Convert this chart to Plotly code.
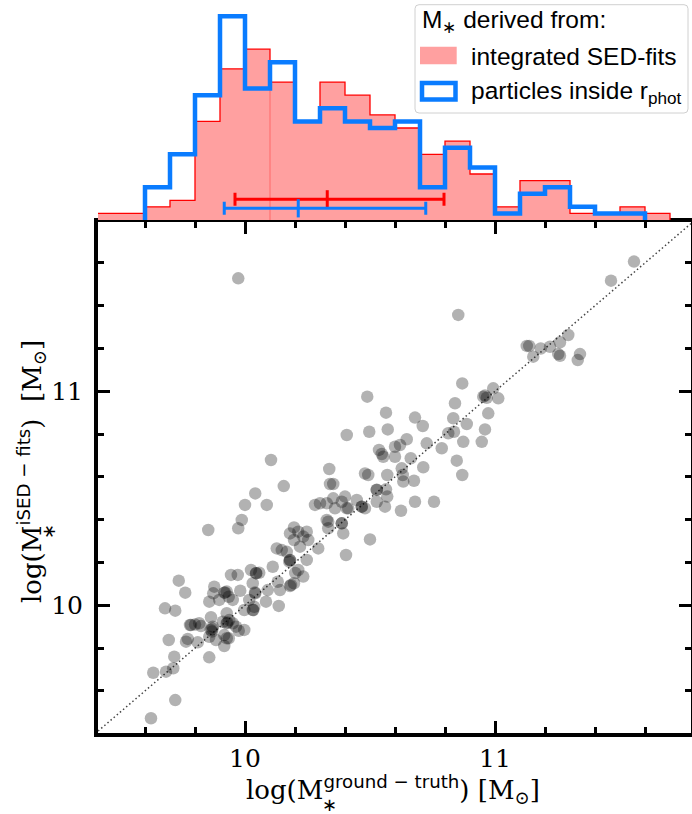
import plotly.graph_objects as go

W, H = 692, 814

# ---------------- data ----------------
x_truth = [9.624, 9.721, 9.633, 9.684, 9.713, 9.717, 9.695, 9.764, 9.771, 9.735,
           9.761, 9.680, 9.721, 9.784, 9.817, 9.824, 9.811, 9.857, 9.864, 9.871,
           9.868, 9.857, 9.884, 9.917, 9.917, 9.935, 9.927, 9.937, 9.951, 9.964,
           9.975, 9.997, 9.927, 9.911, 9.877, 9.873, 9.857, 9.897, 9.917, 9.927,
           9.935, 9.951, 9.981, 10.017, 9.997, 10.031, 10.037, 10.084, 10.135, 9.944,
           9.971, 10.024, 10.044, 10.057, 10.031, 10.041, 10.091, 10.111, 10.131, 10.140,
           10.184, 10.177, 10.201, 10.000, 10.087, 9.987, 9.973, 9.853, 10.196, 10.180,
           10.213, 10.247, 10.233, 10.253, 10.196, 10.127, 10.147, 10.167, 10.220, 10.293,
           10.247, 10.180, 10.213, 10.233, 10.196, 10.180, 10.327, 10.333, 10.360, 10.393,
           10.387, 10.404, 10.407, 10.467, 10.500, 10.527, 10.560, 10.300, 10.280, 10.327,
           10.353, 10.387, 10.400, 10.413, 10.447, 10.480, 10.333, 10.527, 10.569, 10.624,
           10.680, 10.756, 10.340, 10.353, 10.337, 10.480, 10.493, 10.564, 10.569, 10.627,
           10.631, 10.633, 10.676, 10.713, 10.663, 10.647, 10.620, 10.600, 10.553, 10.536,
           10.547, 10.600, 10.407, 10.497, 10.571, 10.564, 10.489, 10.680, 10.711, 10.727,
           10.787, 10.847, 10.869, 10.873, 10.887, 10.833, 10.840, 10.813, 10.836, 10.869,
           10.947, 10.960, 10.973, 10.953, 10.960, 10.967, 10.993, 11.013, 11.556, 11.464,
           11.293, 11.260, 11.220, 11.183, 11.127, 11.137, 11.153, 11.253, 11.260, 11.340,
           11.331, 10.853, 9.973, 10.104, 10.155, 10.041,
           9.920, 9.930, 9.870, 10.045, 10.040, 10.527, 10.180, 10.387, 10.467, 9.780,
           9.800, 10.033, 9.927, 9.863]
y_sed = [9.472, 9.557, 9.685, 9.690, 9.706, 9.760, 9.838, 9.830, 9.843, 10.115,
         10.059, 9.986, 9.975, 9.908, 9.916, 9.903, 9.827, 9.757, 9.944, 9.900,
         9.877, 9.853, 9.838, 9.810, 9.861, 9.846, 9.963, 9.931, 9.916, 9.900,
         9.881, 9.885, 9.916, 9.923, 10.087, 10.056, 10.017, 10.025, 10.059, 10.064,
         10.040, 10.025, 10.068, 10.025, 9.978, 9.978, 9.993, 10.017, 9.997, 10.142,
         10.142, 10.165, 10.150, 10.152, 10.103, 10.056, 10.071, 10.180, 10.110, 10.071,
         10.095, 10.204, 10.151, 10.469, 10.469, 10.399, 10.360, 10.352, 10.364, 10.336,
         10.344, 10.344, 10.321, 10.305, 10.305, 10.266, 10.258, 10.250, 10.274, 10.266,
         10.212, 10.212, 10.165, 10.134, 10.103, 10.090, 10.399, 10.360, 10.453, 10.336,
         10.383, 10.235, 10.453, 10.461, 10.308, 10.484, 10.461, 10.477, 10.469, 10.477,
         10.500, 10.484, 10.508, 10.453, 10.492, 10.453, 10.391, 10.539, 10.508, 10.442,
         10.484, 10.484, 10.567, 10.567, 10.637, 10.616, 10.609, 10.542, 10.609, 10.640,
         10.609, 10.578, 10.582, 10.645, 10.687, 10.776, 10.749, 10.741, 10.694, 10.726,
         10.707, 10.694, 10.796, 10.811, 10.822, 10.900, 10.975, 10.877, 10.838, 10.757,
         10.734, 10.676, 10.609, 10.764, 10.847, 10.874, 10.944, 10.804, 10.811, 11.037,
         10.764, 10.822, 10.897, 10.975, 10.980, 10.970, 11.014, 10.967, 11.606, 11.517,
         11.263, 11.229, 11.208, 11.200, 11.212, 11.212, 11.162, 11.174, 11.166, 11.174,
         11.146, 11.357, 11.528, 10.679, 10.557, 10.523,
         10.060, 9.920, 9.890, 10.150, 10.060, 10.540, 10.210, 10.383, 10.461, 9.908,
         9.910, 9.978, 9.846, 9.885]

# histogram bins (edges) and counts
bin_edges = [9.4, 9.5, 9.6, 9.7, 9.8, 9.9, 10.0, 10.1, 10.2, 10.3, 10.4, 10.5,
             10.6, 10.7, 10.8, 10.9, 11.0, 11.1, 11.2, 11.3, 11.4, 11.5, 11.6, 11.7]
counts_sed = [1, 1, 2, 3, 15, 23, 26, 21, 15, 21, 19, 16, 14, 10, 12, 7, 2, 6, 6, 1, 1, 2, 1]
counts_part = [0, 0, 5, 10, 19, 31, 20, 24, 15, 17, 15, 14, 15, 5, 11, 8, 1, 4, 5, 2, 1, 1, 0]

# median and 16/84 percentile ranges
sed_stats = [9.96, 10.329, 10.796]
part_stats = [9.917, 10.213, 10.723]
sed_bar_level = 3.15
part_bar_level = 1.78

tick_major = [10, 11]
tick_labels = ["10", "11"]

RED = "#ff0000"
PINK = "#ffa0a0"
BLUE = "#0a7cff"

# ---------------- geometry helpers ----------------
def xval(px):
    return 10 + (px - 245) / 250.0

def yval(py):
    return 10 + (605.3 - py) / 214.0

def PX(px):
    return px / W

def PY(py):
    return 1 - py / H

X0, X1 = 98, 691
YT, YB = 222, 732.5
HB = 220            # histogram baseline (px)
PX_PER_COUNT = 6.57


def step_xy(edges, counts):
    i0 = next(i for i, c in enumerate(counts) if c > 0)
    i1 = max(i for i, c in enumerate(counts) if c > 0)
    xs = [edges[i0]]
    ys = [0]
    for i in range(i0, i1 + 1):
        xs.append(edges[i])
        ys.append(counts[i])
    xs.append(edges[i1 + 1])
    ys.append(counts[i1])
    xs.append(edges[i1 + 1])
    ys.append(0)
    return xs, ys


fig = go.Figure()

# one-to-one line
fig.add_trace(go.Scatter(x=[9.4, 11.8], y=[9.4, 11.8], mode="lines",
                         line=dict(color="#444444", width=1.5, dash="1.5px,2.6px"),
                         hoverinfo="skip", showlegend=False, xaxis="x", yaxis="y"))
# scatter
fig.add_trace(go.Scatter(x=x_truth, y=y_sed, mode="markers",
                         marker=dict(size=12.5, color="rgba(0,0,0,0.3)", line=dict(width=0)),
                         showlegend=False, xaxis="x", yaxis="y"))

# histograms
sx, sy = step_xy(bin_edges, counts_sed)
fig.add_trace(go.Scatter(x=sx, y=sy, mode="lines", line_shape="hv", fill="tozeroy",
                         fillcolor=PINK, line=dict(color=RED, width=1.3),
                         showlegend=False, xaxis="x2", yaxis="y2"))
fig.add_trace(go.Scatter(x=[10.1, 10.1], y=[0, 21], mode="lines",
                         line=dict(color="rgba(255,0,0,0.35)", width=1),
                         showlegend=False, xaxis="x2", yaxis="y2"))
bx, by = step_xy(bin_edges, counts_part)
fig.add_trace(go.Scatter(x=bx, y=by, mode="lines", line_shape="hv",
                         line=dict(color=BLUE, width=4.5),
                         showlegend=False, xaxis="x2", yaxis="y2"))

# error bars (median + percentiles)
for stats, lvl, col in [(sed_stats, sed_bar_level, RED), (part_stats, part_bar_level, BLUE)]:
    fig.add_trace(go.Scatter(
        x=[stats[1]], y=[lvl], mode="markers",
        marker=dict(symbol="line-ns", size=13, line=dict(color=col, width=3), color=col),
        error_x=dict(type="data", symmetric=False, array=[stats[2] - stats[1]],
                     arrayminus=[stats[1] - stats[0]], color=col, thickness=3, width=6.5),
        showlegend=False, xaxis="x2", yaxis="y2", cliponaxis=False))

axis_common = dict(
    showline=True, linewidth=4, linecolor="black", mirror="ticks",
    ticks="inside", ticklen=12, tickwidth=3, tickcolor="black",
    tickvals=tick_major, ticktext=tick_labels,
    tickfont=dict(family="DejaVu Serif", size=25, color="black"),
    minor=dict(dtick=0.2, tick0=10, ticks="inside", ticklen=6, tickwidth=3, tickcolor="black"),
    showgrid=False, zeroline=False, automargin=False,
)

fig.update_layout(
    width=W, height=H, autosize=False,
    margin=dict(l=0, r=0, t=0, b=0),
    paper_bgcolor="white", plot_bgcolor="rgba(0,0,0,0)",
    xaxis=dict(domain=[PX(X0), PX(X1)], range=[xval(X0), xval(X1)], anchor="y",
               ticklabelstandoff=0, **axis_common),
    yaxis=dict(domain=[PY(YB), PY(YT)], range=[yval(YB), yval(YT)], anchor="x",
               ticklabelstandoff=6, **axis_common),
    xaxis2=dict(domain=[PX(X0), PX(X1)], range=[xval(X0), xval(X1)], anchor="y2",
                visible=False),
    yaxis2=dict(domain=[PY(HB), 1], range=[0, HB / PX_PER_COUNT], anchor="x2",
                visible=False),
    showlegend=False,
)

serif = "DejaVu Serif"
sans_span = '<span style="font-family:\'DejaVu Sans\'">{}</span>'

annotations = [
    dict(text="log(M<sup>" + sans_span.format("ground − truth") + "</sup>) [M<sub>⊙</sub>]",
         x=PX(393), y=PY(789), xanchor="center", yanchor="middle",
         font=dict(family=serif, size=26, color="black")),
    dict(text="∗", x=PX(329), y=PY(804), xanchor="center", yanchor="middle",
         font=dict(family="DejaVu Sans", size=18, color="black")),
    dict(text="log(M<sup>" + sans_span.format("iSED − fits") + "</sup>)  [M<sub>⊙</sub>]",
         x=PX(31), y=PY(472), xanchor="center", yanchor="middle", textangle=-90,
         font=dict(family=serif, size=26, color="black")),
    dict(text="∗", x=PX(48), y=PY(531), xanchor="center", yanchor="middle", textangle=-90,
         font=dict(family="DejaVu Sans", size=18, color="black")),
    # legend texts
    dict(text="M<sub>∗</sub> derived from:", x=PX(420), y=PY(22), xanchor="left", yanchor="middle",
         font=dict(family="Liberation Sans", size=24.5, color="black")),
    dict(text="integrated SED-fits", x=PX(469), y=PY(56), xanchor="left", yanchor="middle",
         font=dict(family="Liberation Sans", size=24.5, color="black")),
    dict(text="particles inside r<sub>phot</sub>", x=PX(469), y=PY(93), xanchor="left",
         yanchor="middle", font=dict(family="Liberation Sans", size=24.5, color="black")),
]
for a in annotations:
    a.update(xref="paper", yref="paper", showarrow=False)
fig.update_layout(annotations=annotations)

# legend frame (rounded rectangle) and patches
lx0, lx1, ly0, ly1, r = 415, 688, 4.7, 113, 4


def rrect(x0, x1, y0, y1, r):
    p = (f"M {PX(x0 + r)} {PY(y0)} L {PX(x1 - r)} {PY(y0)} Q {PX(x1)} {PY(y0)} {PX(x1)} {PY(y0 + r)} "
         f"L {PX(x1)} {PY(y1 - r)} Q {PX(x1)} {PY(y1)} {PX(x1 - r)} {PY(y1)} "
         f"L {PX(x0 + r)} {PY(y1)} Q {PX(x0)} {PY(y1)} {PX(x0)} {PY(y1 - r)} "
         f"L {PX(x0)} {PY(y0 + r)} Q {PX(x0)} {PY(y0)} {PX(x0 + r)} {PY(y0)} Z")
    return p


shapes = [
    dict(type="path", path=rrect(lx0, lx1, ly0, ly1, r), xref="paper", yref="paper",
         line=dict(color="#d0d0d0", width=1), fillcolor="rgba(255,255,255,0.8)", layer="above"),
    dict(type="rect", x0=PX(420), x1=PX(456.7), y0=PY(64.3), y1=PY(46.7), xref="paper", yref="paper",
         line=dict(width=0), fillcolor=PINK, layer="above"),
    dict(type="rect", x0=PX(422), x1=PX(455.5), y0=PY(99.5), y1=PY(83), xref="paper", yref="paper",
         line=dict(color=BLUE, width=4.5), fillcolor="white", layer="above"),
]
fig.update_layout(shapes=shapes)

fig.write_html("out.html")
